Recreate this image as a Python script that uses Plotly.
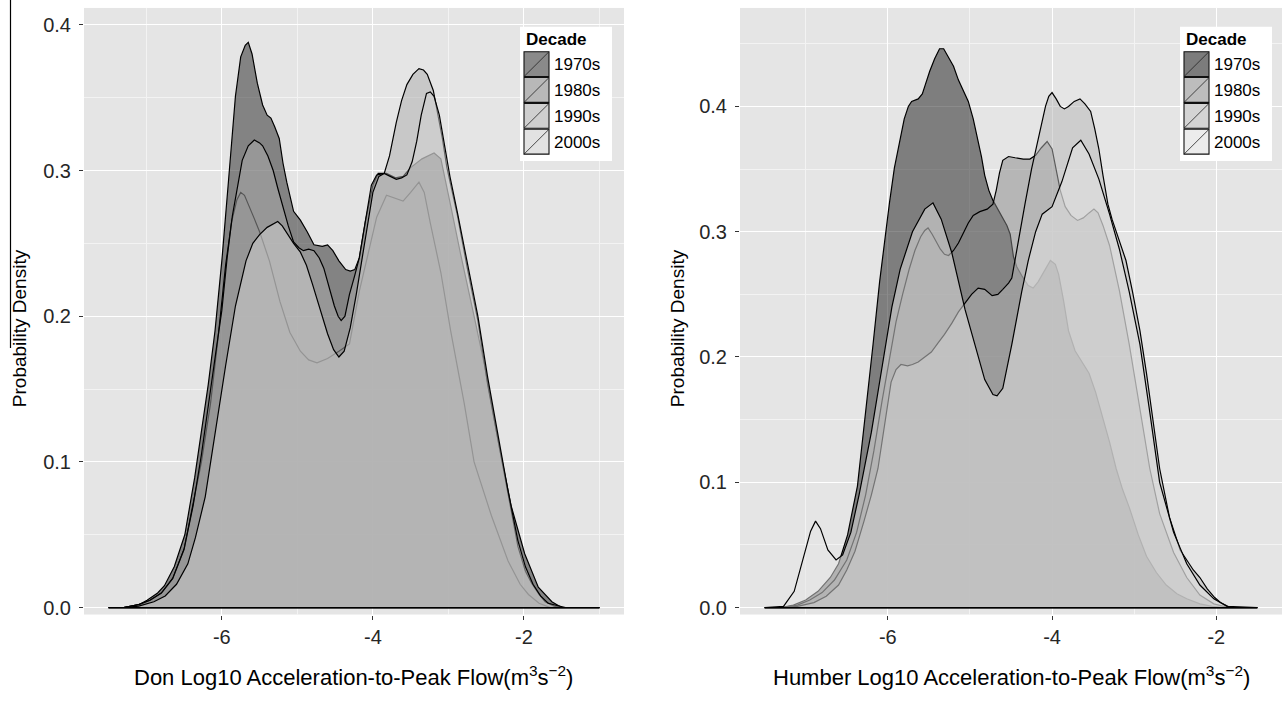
import plotly.graph_objects as go

decades = ["1970s", "1980s", "1990s", "2000s"]
# fill greys (alpha 0.5) as they read in each panel of the source picture
don_fills = ["rgba(34,34,34,0.5)", "rgba(126,126,126,0.5)", "rgba(172,172,172,0.5)", "rgba(210,210,210,0.5)"]
hum_fills = ["rgba(23,23,23,0.5)", "rgba(136,136,136,0.5)", "rgba(182,182,182,0.5)", "rgba(230,230,230,0.5)"]
don_key_colors = ["#8a8a8a", "#b8b8b8", "#cfcfcf", "#e2e2e2"]
hum_key_colors = ["#7c7c7c", "#bdbdbd", "#d4d4d4", "#ececec"]

# ---------------- Don (left panel) ----------------
don_1970s_x = [-7.5,-7.3,-7.1,-6.99,-6.85,-6.76,-6.63,-6.49,-6.36,-6.27,-6.18,-6.09,-6.0,-5.91,-5.82,-5.75,-5.69,-5.65,-5.6,-5.53,-5.46,-5.4,-5.35,-5.3,-5.24,-5.19,-5.14,-5.05,-4.96,-4.87,-4.78,-4.67,-4.6,-4.53,-4.45,-4.36,-4.3,-4.24,-4.18,-4.1,-4.0,-3.93,-3.82,-3.7,-3.6,-3.5,-3.35,-3.19,-3.1,-2.97,-2.84,-2.66,-2.52,-2.34,-2.17,-1.99,-1.81,-1.63,-1.5,-1.0]
don_1970s_y = [0,0,0.002,0.005,0.01,0.015,0.028,0.05,0.089,0.12,0.153,0.19,0.238,0.294,0.351,0.378,0.386,0.388,0.38,0.36,0.345,0.338,0.336,0.33,0.322,0.305,0.292,0.272,0.266,0.258,0.249,0.248,0.249,0.245,0.238,0.232,0.231,0.232,0.24,0.265,0.29,0.298,0.298,0.295,0.296,0.302,0.308,0.312,0.308,0.276,0.243,0.2,0.166,0.114,0.07,0.037,0.014,0.004,0,0]

don_1980s_x = [-7.5,-7.3,-7.1,-6.95,-6.8,-6.65,-6.5,-6.38,-6.27,-6.15,-6.05,-5.95,-5.87,-5.8,-5.75,-5.7,-5.64,-5.57,-5.5,-5.37,-5.23,-5.1,-4.96,-4.85,-4.74,-4.6,-4.45,-4.31,-4.18,-4.04,-3.95,-3.82,-3.7,-3.6,-3.5,-3.39,-3.32,-3.24,-3.1,-2.97,-2.79,-2.66,-2.43,-2.21,-2.05,-1.94,-1.8,-1.65,-1.0]
don_1980s_y = [0,0,0.002,0.005,0.01,0.02,0.04,0.07,0.1,0.14,0.185,0.235,0.265,0.28,0.285,0.283,0.276,0.267,0.258,0.238,0.21,0.189,0.176,0.17,0.168,0.171,0.176,0.181,0.217,0.248,0.268,0.283,0.281,0.279,0.285,0.292,0.285,0.264,0.23,0.19,0.14,0.1,0.063,0.032,0.016,0.009,0.003,0,0]

don_1990s_x = [-7.5,-7.3,-7.1,-6.95,-6.8,-6.65,-6.5,-6.38,-6.27,-6.17,-6.08,-6.0,-5.93,-5.86,-5.79,-5.73,-5.65,-5.57,-5.5,-5.46,-5.39,-5.32,-5.26,-5.19,-5.12,-5.05,-4.98,-4.92,-4.85,-4.78,-4.71,-4.65,-4.58,-4.51,-4.46,-4.42,-4.37,-4.31,-4.24,-4.18,-4.1,-4.02,-3.95,-3.85,-3.78,-3.69,-3.62,-3.55,-3.47,-3.39,-3.33,-3.28,-3.2,-3.15,-3.08,-3.02,-2.95,-2.88,-2.75,-2.61,-2.48,-2.34,-2.21,-2.08,-1.98,-1.9,-1.8,-1.72,-1.6,-1.5,-1.0]
don_1990s_y = [0,0,0.002,0.005,0.01,0.02,0.04,0.07,0.105,0.14,0.175,0.204,0.24,0.269,0.29,0.307,0.317,0.321,0.319,0.317,0.31,0.3,0.288,0.274,0.262,0.251,0.247,0.245,0.246,0.245,0.24,0.233,0.22,0.207,0.2,0.197,0.2,0.215,0.228,0.24,0.265,0.29,0.297,0.298,0.31,0.333,0.348,0.359,0.366,0.37,0.369,0.366,0.355,0.341,0.322,0.302,0.285,0.269,0.233,0.197,0.153,0.114,0.076,0.042,0.025,0.017,0.009,0.004,0.001,0,0]

don_2000s_x = [-7.5,-7.3,-7.1,-6.9,-6.75,-6.6,-6.45,-6.35,-6.22,-6.09,-5.95,-5.82,-5.68,-5.59,-5.5,-5.4,-5.3,-5.26,-5.2,-5.14,-5.05,-4.96,-4.88,-4.8,-4.7,-4.6,-4.52,-4.45,-4.38,-4.3,-4.22,-4.15,-4.07,-4.0,-3.92,-3.85,-3.77,-3.69,-3.62,-3.55,-3.48,-3.42,-3.36,-3.29,-3.24,-3.19,-3.12,-3.06,-2.98,-2.88,-2.75,-2.61,-2.48,-2.34,-2.21,-2.08,-1.98,-1.88,-1.78,-1.68,-1.55,-1.45,-1.0]
don_2000s_y = [0,0,0.001,0.004,0.008,0.016,0.03,0.048,0.076,0.12,0.166,0.207,0.238,0.25,0.256,0.261,0.264,0.265,0.262,0.257,0.25,0.244,0.235,0.222,0.205,0.188,0.177,0.172,0.176,0.192,0.215,0.238,0.265,0.285,0.296,0.298,0.296,0.294,0.295,0.297,0.306,0.32,0.338,0.353,0.354,0.351,0.338,0.32,0.296,0.271,0.236,0.2,0.158,0.118,0.08,0.046,0.028,0.016,0.008,0.003,0.001,0,0]

# ---------------- Humber (right panel) ----------------
hum_1970s_x = [-7.5,-7.3,-7.15,-7.0,-6.85,-6.7,-6.6,-6.49,-6.37,-6.27,-6.18,-6.1,-6.04,-5.98,-5.92,-5.86,-5.8,-5.75,-5.71,-5.63,-5.58,-5.55,-5.49,-5.43,-5.37,-5.32,-5.27,-5.2,-5.14,-5.08,-5.02,-4.96,-4.9,-4.86,-4.82,-4.77,-4.72,-4.66,-4.6,-4.55,-4.51,-4.47,-4.43,-4.37,-4.29,-4.23,-4.17,-4.1,-4.02,-3.96,-3.92,-3.86,-3.8,-3.72,-3.63,-3.55,-3.47,-3.39,-3.3,-3.22,-3.14,-3.06,-2.95,-2.85,-2.73,-2.61,-2.48,-2.36,-2.2,-2.05,-1.9,-1.5]
hum_1970s_y = [0,0,0.002,0.006,0.013,0.024,0.035,0.058,0.097,0.154,0.21,0.26,0.294,0.323,0.351,0.372,0.39,0.4,0.404,0.406,0.41,0.416,0.428,0.438,0.446,0.446,0.44,0.432,0.421,0.413,0.404,0.39,0.373,0.36,0.345,0.333,0.325,0.318,0.311,0.305,0.298,0.28,0.272,0.265,0.257,0.255,0.26,0.268,0.277,0.274,0.266,0.245,0.221,0.205,0.196,0.187,0.172,0.154,0.132,0.111,0.094,0.08,0.058,0.041,0.028,0.018,0.011,0.007,0.003,0.001,0,0]

hum_1980s_x = [-7.5,-7.3,-7.1,-6.95,-6.8,-6.65,-6.5,-6.38,-6.27,-6.17,-6.07,-5.98,-5.9,-5.82,-5.74,-5.67,-5.6,-5.55,-5.51,-5.46,-5.41,-5.36,-5.31,-5.26,-5.2,-5.14,-5.08,-5.02,-4.96,-4.88,-4.79,-4.72,-4.68,-4.64,-4.6,-4.53,-4.45,-4.35,-4.27,-4.2,-4.13,-4.06,-4.0,-3.95,-3.9,-3.84,-3.77,-3.69,-3.62,-3.55,-3.49,-3.44,-3.38,-3.3,-3.18,-3.06,-2.93,-2.81,-2.69,-2.52,-2.36,-2.2,-2.03,-1.85,-1.5]
hum_1980s_y = [0,0,0.002,0.006,0.012,0.022,0.038,0.06,0.09,0.125,0.165,0.2,0.228,0.25,0.27,0.285,0.296,0.301,0.303,0.298,0.292,0.286,0.282,0.281,0.285,0.291,0.299,0.307,0.313,0.316,0.318,0.322,0.333,0.347,0.357,0.36,0.359,0.358,0.358,0.361,0.367,0.372,0.366,0.35,0.333,0.32,0.313,0.309,0.311,0.315,0.318,0.315,0.305,0.289,0.253,0.21,0.159,0.111,0.075,0.044,0.024,0.01,0.003,0,0]

hum_1990s_x = [-7.5,-7.3,-7.1,-6.9,-6.75,-6.6,-6.5,-6.4,-6.29,-6.2,-6.12,-6.04,-5.96,-5.9,-5.84,-5.76,-5.7,-5.63,-5.55,-5.47,-5.39,-5.31,-5.22,-5.14,-5.06,-4.98,-4.9,-4.82,-4.73,-4.66,-4.6,-4.53,-4.49,-4.45,-4.41,-4.33,-4.25,-4.2,-4.15,-4.08,-4.04,-4.0,-3.95,-3.9,-3.85,-3.8,-3.73,-3.66,-3.6,-3.53,-3.48,-3.43,-3.38,-3.32,-3.27,-3.22,-3.16,-3.1,-3.02,-2.93,-2.85,-2.77,-2.69,-2.57,-2.44,-2.28,-2.2,-2.11,-2.02,-1.95,-1.83,-1.5]
hum_1990s_y = [0,0,0.001,0.004,0.009,0.018,0.03,0.045,0.069,0.09,0.111,0.145,0.18,0.19,0.194,0.193,0.194,0.196,0.2,0.204,0.211,0.218,0.227,0.236,0.243,0.25,0.255,0.254,0.249,0.25,0.254,0.259,0.263,0.278,0.294,0.322,0.35,0.365,0.38,0.4,0.408,0.411,0.406,0.4,0.398,0.4,0.404,0.406,0.402,0.396,0.382,0.366,0.345,0.322,0.31,0.3,0.289,0.277,0.252,0.221,0.187,0.15,0.111,0.072,0.046,0.03,0.024,0.015,0.008,0.004,0,0]

hum_2000s_x = [-7.5,-7.27,-7.14,-7.02,-6.94,-6.88,-6.82,-6.73,-6.63,-6.55,-6.45,-6.35,-6.2,-6.05,-5.95,-5.85,-5.7,-5.55,-5.45,-5.35,-5.22,-5.06,-4.94,-4.82,-4.72,-4.67,-4.6,-4.49,-4.37,-4.29,-4.2,-4.12,-4.0,-3.88,-3.75,-3.65,-3.55,-3.43,-3.3,-3.18,-3.06,-2.93,-2.81,-2.69,-2.52,-2.36,-2.2,-2.03,-1.87,-1.5]
hum_2000s_y = [0,0.001,0.013,0.041,0.061,0.069,0.063,0.046,0.038,0.042,0.06,0.09,0.14,0.2,0.24,0.27,0.3,0.318,0.323,0.31,0.283,0.238,0.21,0.182,0.17,0.169,0.175,0.21,0.252,0.277,0.3,0.314,0.32,0.34,0.367,0.373,0.362,0.342,0.314,0.286,0.252,0.21,0.156,0.1,0.06,0.035,0.018,0.007,0.001,0]

don_series = [(don_1970s_x, don_1970s_y), (don_1980s_x, don_1980s_y), (don_1990s_x, don_1990s_y), (don_2000s_x, don_2000s_y)]
hum_series = [(hum_1970s_x, hum_1970s_y), (hum_1980s_x, hum_1980s_y), (hum_1990s_x, hum_1990s_y), (hum_2000s_x, hum_2000s_y)]

y_ticks = [0.0, 0.1, 0.2, 0.3, 0.4]
y_tick_text = ["0.0", "0.1", "0.2", "0.3", "0.4"]
x_ticks = [-6, -4, -2]
x_tick_text = ["-6", "-4", "-2"]

FONT = "Liberation Sans, Arial, sans-serif"
W, H = 1282, 716
def px(x):
    return x / W
def py(y):
    return (H - y) / H

fig = go.Figure()

def add_series(series, fills, xa, ya):
    for name, (xs, ys), fc in zip(decades, series, fills):
        # closed polygon (outline includes the baseline, as in the original)
        pxs = list(xs) + [xs[0]]
        pys = list(ys) + [ys[0]]
        fig.add_trace(go.Scatter(
            x=pxs, y=pys, mode="lines", fill="toself", fillcolor=fc,
            line=dict(color="black", width=1.2), name=name,
            xaxis=xa, yaxis=ya, showlegend=False, hoverinfo="skip"))

add_series(don_series, don_fills, "x", "y")
add_series(hum_series, hum_fills, "x2", "y2")

PANEL_TOP, PANEL_BOTTOM = 8, 618
ydom = [py(PANEL_BOTTOM), py(PANEL_TOP)]

def xaxis_style(dom, rng, anchor):
    return dict(domain=dom, range=rng, anchor=anchor, tickvals=x_ticks, ticktext=x_tick_text,
                showgrid=True, gridcolor="white", gridwidth=1.1,
                minor=dict(dtick=1, tick0=0, showgrid=True, gridcolor="#f3f3f3", gridwidth=0.6, ticks=""),
                ticks="outside", ticklen=4, tickcolor="#333333", tickwidth=1,
                tickfont=dict(family=FONT, size=20, color="#262626"),
                zeroline=False, showline=False, fixedrange=True)

def yaxis_style(anchor, rng):
    return dict(domain=ydom, range=rng, anchor=anchor, tickvals=y_ticks, ticktext=y_tick_text,
                showgrid=True, gridcolor="white", gridwidth=1.1,
                minor=dict(dtick=0.05, tick0=0, showgrid=True, gridcolor="#f3f3f3", gridwidth=0.6, ticks=""),
                ticks="outside", ticklen=4, tickcolor="#333333", tickwidth=1,
                tickfont=dict(family=FONT, size=20, color="#262626"),
                ticklabelstandoff=4,
                zeroline=False, showline=False, fixedrange=True)

# left: 0.0 at y=611, 0.4 at y=25 ; right: 0.0 at y=611, 0.4 at y=107
l_scale = (611 - 25) / 0.4
r_scale = (611 - 107) / 0.4
l_range = [-(PANEL_BOTTOM - 611) / l_scale, 0.4 + (25 - PANEL_TOP) / l_scale]
r_range = [-(PANEL_BOTTOM - 611) / r_scale, 0.4 + (107 - PANEL_TOP) / r_scale]

fig.update_layout(
    width=W, height=H,
    margin=dict(l=0, r=0, t=0, b=0),
    paper_bgcolor="white", plot_bgcolor="#e5e5e5",
    font=dict(family=FONT, color="black"),
    xaxis=xaxis_style([px(84), px(624)], [-7.825, -0.675], "y"),
    yaxis=yaxis_style("x", l_range),
    xaxis2=xaxis_style([px(740), 1.0], [-7.8, -1.2], "y2"),
    yaxis2=yaxis_style("x2", r_range),
    showlegend=False,
)

# axis titles
fig.add_annotation(text="Don Log10 Acceleration-to-Peak Flow(m<sup>3</sup>s<sup>\u22122</sup>)",
                   x=px(354), y=py(680), xref="paper", yref="paper", xanchor="center", yanchor="middle",
                   showarrow=False, font=dict(size=22, family=FONT, color="black"))
fig.add_annotation(text="Humber Log10 Acceleration-to-Peak Flow(m<sup>3</sup>s<sup>\u22122</sup>)",
                   x=px(1011), y=py(680), xref="paper", yref="paper", xanchor="center", yanchor="middle",
                   showarrow=False, font=dict(size=22, family=FONT, color="black"))
for xc in (19, 677):
    fig.add_annotation(text="Probability Density", textangle=-90,
                       x=px(xc), y=py(330), xref="paper", yref="paper", xanchor="center", yanchor="middle",
                       showarrow=False, font=dict(size=19, family=FONT, color="black"))

# legends (ggplot-style boxes with slashed keys)
def add_legend(box_left, key_colors):
    fig.add_shape(type="rect", xref="paper", yref="paper",
                  x0=px(box_left), x1=px(box_left + 92), y0=py(162), y1=py(27),
                  fillcolor="white", line=dict(width=0), layer="above")
    fig.add_annotation(text="<b>Decade</b>", x=px(box_left + 4), y=py(40), xref="paper", yref="paper",
                       xanchor="left", yanchor="middle", showarrow=False,
                       font=dict(size=17, family=FONT, color="black"))
    for i, (name, col) in enumerate(zip(decades, key_colors)):
        top = 52 + 26 * i
        kx0, kx1 = box_left + 4, box_left + 29
        fig.add_shape(type="rect", xref="paper", yref="paper",
                      x0=px(kx0), x1=px(kx1), y0=py(top + 25), y1=py(top),
                      fillcolor=col, line=dict(color="#111111", width=1.1), layer="above")
        fig.add_shape(type="line", xref="paper", yref="paper",
                      x0=px(kx0), x1=px(kx1), y0=py(top + 25), y1=py(top),
                      line=dict(color="#222222", width=0.8), layer="above")
        fig.add_annotation(text=name, x=px(kx1 + 3), y=py(top + 13), xref="paper", yref="paper",
                           xanchor="left", yanchor="middle", showarrow=False,
                           font=dict(size=17, family=FONT, color="black"))

add_legend(520, don_key_colors)
add_legend(1180, hum_key_colors)

# thin black vertical stroke at the top-left edge of the original image
fig.add_shape(type="line", xref="paper", yref="paper",
              x0=px(10.5), x1=px(10.5), y0=1.0, y1=py(350),
              line=dict(color="black", width=1.2))

fig.write_html("out.html")
